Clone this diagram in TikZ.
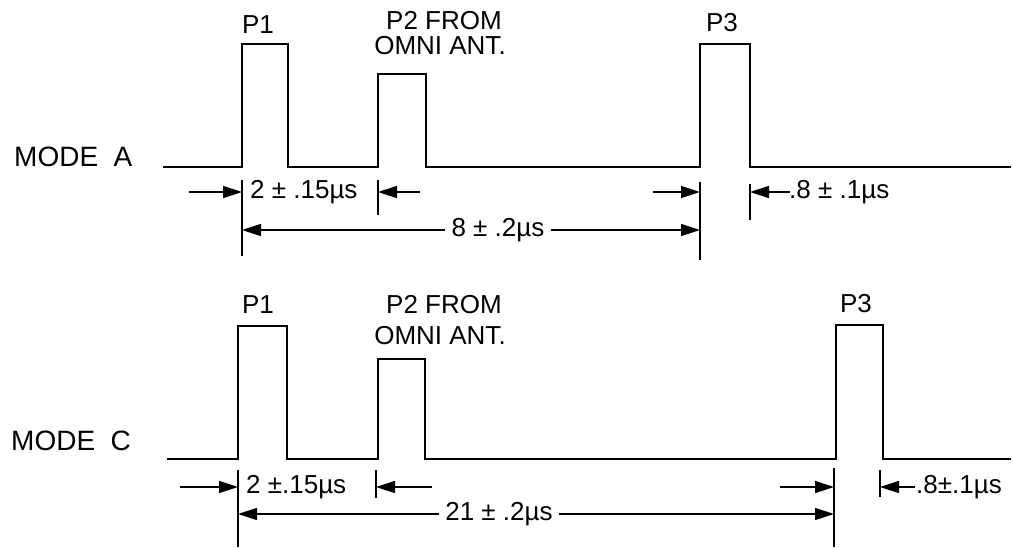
\documentclass[tikz,border=0pt]{standalone}
\usepackage{fontspec}
\setmainfont{Liberation Sans}
\usetikzlibrary{arrows.meta,positioning}

\begin{document}
\begin{tikzpicture}[x=1pt, y=-1pt,
  >={Triangle[length=19pt,width=12pt]},
  wave/.style={line width=1.9pt, line join=miter},
  tick/.style={line width=1.5pt},
  dim/.style={line width=1.5pt, ->},
  modelabel/.style={font=\fontsize{28}{30}\selectfont, inner sep=0pt, anchor=west},
  pulselabel/.style={font=\fontsize{26}{26}\selectfont, inner sep=0pt},
  value/.style={font=\fontsize{26}{26}\selectfont, inner sep=6pt},
]
\useasboundingbox (0,0) rectangle (1013,547);

% --- Mode A: pulse train ---
\node[modelabel] (modeA) at (14,157) {MODE\ \ A};
\draw[wave] (163,167) -| (242,44) -| (288,167) -| (378,74) -| (426,167)
            -| (700,44) -| (750,167) -- (1011,167);
\node[pulselabel] (p1A)  at (258,25) {P1};
\node[pulselabel] (p2A)  at (444,21) {P2 FROM};
\node[pulselabel] (omA)  at (440,46) {OMNI ANT.};
\node[pulselabel] (p3A)  at (722,23) {P3};

% pulse edges and extension ticks
\coordinate (A-p1) at (242,192);
\coordinate (A-p2) at (378,192);
\coordinate (A-p3) at (700,192);
\coordinate (A-p3e) at (750,192);
\draw[tick] (242,180) -- (242,256);
\draw[tick] (378,180) -- (378,215);
\draw[tick] (700,182) -- (700,260);
\draw[tick] (750,184) -- (750,220);

% --- Mode A: dimensions ---
\coordinate (A-in1) at (189,192);
\coordinate (A-in2) at (420,192);
\coordinate (A-in3) at (653,192);
\coordinate (A-in4) at (790,192);
\draw[dim] (A-in1) -- (A-p1);
\node[value, anchor=west] (spA) at (244,192) {2 ± .15µs};
\draw[dim] (A-in2) -- (A-p2);
\draw[dim] (A-in3) -- (A-p3);
\draw[dim] (A-in4) -- (A-p3e);
\node[value, anchor=west, inner sep=2pt] (wdA) at (787,192) {.8 ± .1µs};

\node[value] (totA) at (498,230) {8 ± .2µs};
\draw[dim] (totA.west) -- (totA.west -| A-p1);
\draw[dim] (totA.east) -- (totA.east -| A-p3);

% --- Mode C: pulse train ---
\node[modelabel] (modeC) at (11,441) {MODE\ \ C};
\draw[wave] (167,459) -| (238,326) -| (287,459) -| (378,359) -| (425,459)
            -| (836,325) -| (883,459) -- (1011,459);
\node[pulselabel] (p1C)  at (258,305) {P1};
\node[pulselabel] (p2C)  at (444,305) {P2 FROM};
\node[pulselabel] (omC)  at (440,336) {OMNI ANT.};
\node[pulselabel] (p3C)  at (856,304) {P3};

% pulse edges and extension ticks
\coordinate (C-p1) at (238,487);
\coordinate (C-p2) at (376,487);
\coordinate (C-p3) at (834,487);
\coordinate (C-p3e) at (880,487);
\draw[tick] (238,470) -- (238,547);
\draw[tick] (376,470) -- (376,498);
\draw[tick] (834,468) -- (834,547);
\draw[tick] (880,470) -- (880,497);

% --- Mode C: dimensions ---
\coordinate (C-in1) at (180,487);
\coordinate (C-in2) at (432,487);
\coordinate (C-in3) at (780,487);
\coordinate (C-in4) at (915,487);
\draw[dim] (C-in1) -- (C-p1);
\node[value, anchor=west] (spC) at (240,487) {2 ±.15µs};
\draw[dim] (C-in2) -- (C-p2);
\draw[dim] (C-in3) -- (C-p3);
\draw[dim] (C-in4) -- (C-p3e);
\node[value, anchor=west, inner sep=1pt] (wdC) at (915,487) {.8±.1µs};

\node[value] (totC) at (499,514) {21 ± .2µs};
\draw[dim] (totC.west) -- (totC.west -| C-p1);
\draw[dim] (totC.east) -- (totC.east -| C-p3);
\end{tikzpicture}
\end{document}
